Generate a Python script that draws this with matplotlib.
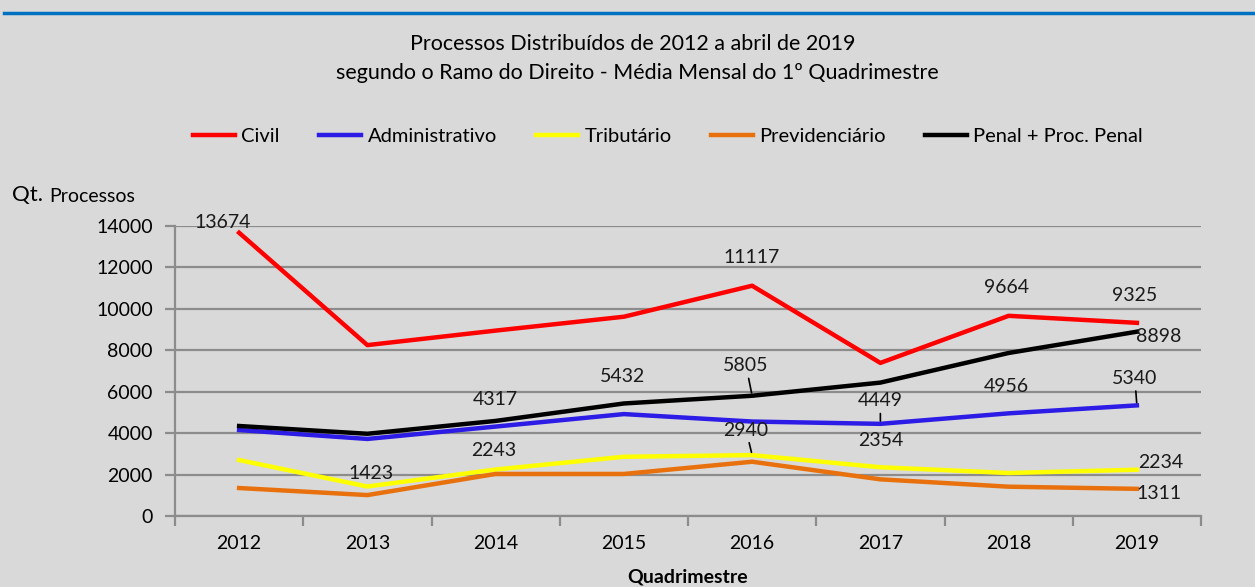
import matplotlib.pyplot as plt
import numpy as np

plt.rcParams['font.family'] = ['Lato', 'DejaVu Sans']

anos = ['2012', '2013', '2014', '2015', '2016', '2017', '2018', '2019']
civil = [13674, 8250, 8950, 9620, 11117, 7390, 9664, 9325]
administrativo = [4150, 3720, 4317, 4920, 4560, 4449, 4956, 5340]
tributario = [2700, 1423, 2243, 2860, 2940, 2354, 2075, 2234]
previdenciario = [1350, 1010, 2030, 2030, 2620, 1770, 1415, 1311]
penal = [4345, 3970, 4590, 5432, 5805, 6440, 7870, 8898]

bg = '#D9D9D9'
grid_c = '#8C8C8C'

fig = plt.figure(figsize=(12.55, 5.87), dpi=100, facecolor=bg)
ax = fig.add_axes([175/1255, 1-516/587, (1201-175)/1255, (516-226)/587])
ax.set_facecolor(bg)

x = np.arange(len(anos))
lw = 3.2
ax.plot(x, civil, color='#FF0000', lw=lw, label='Civil')
ax.plot(x, administrativo, color='#2D1BE6', lw=lw, label='Administrativo')
ax.plot(x, tributario, color='#FFFF00', lw=lw, label='Tributário')
ax.plot(x, previdenciario, color='#E8710E', lw=lw, label='Previdenciário')
ax.plot(x, penal, color='#000000', lw=lw, label='Penal + Proc. Penal')

ax.set_xlim(-0.5, 7.5)
ax.set_ylim(0, 14000)
ax.set_yticks(range(0, 14001, 2000))
ax.yaxis.grid(True, color=grid_c, lw=1.6)
ax.set_axisbelow(True)
ax.set_xticks(x)
ax.set_xticklabels(anos, fontsize=14)
ax.set_xticks(np.arange(-0.5, 8, 1), minor=True)
ax.tick_params(axis='x', which='major', length=0, pad=14)
ax.tick_params(axis='x', which='minor', length=7, width=1.6, color=grid_c)
ax.tick_params(axis='y', length=7, width=1.6, color=grid_c, labelsize=14, pad=9)
for s in ['top', 'right']:
    ax.spines[s].set_visible(False)
for s in ['left', 'bottom']:
    ax.spines[s].set_color(grid_c)
    ax.spines[s].set_linewidth(1.6)

# rotulos de dados: (serie, indice, dx, dy em pixels, linha guia)
def rot(serie, i, dx, dy, guia=False):
    px = 0.72
    kw = {}
    if guia:
        kw['arrowprops'] = dict(arrowstyle='-', color='black', lw=1.2, shrinkA=1, shrinkB=2)
    ax.annotate(str(serie[i]), (x[i], serie[i]), xytext=(dx*px, dy*px),
                textcoords='offset points', ha='center', va='center',
                fontsize=14, color='#1A1A1A', annotation_clip=False, **kw)

rot(civil, 0, -16, 10)
rot(tributario, 1, 4, 13)
rot(tributario, 2, -2, 19)
rot(administrativo, 2, 0, 27)
rot(penal, 3, -1, 27)
rot(civil, 4, -1, 28)
rot(penal, 4, -6, 30, True)
rot(tributario, 4, -6, 25, True)
rot(administrativo, 5, 0, 23, True)
rot(tributario, 5, 0, 27)
rot(civil, 6, -2, 28)
rot(administrativo, 6, -2, 27)
rot(civil, 7, -2, 27)
rot(penal, 7, 22, -5)
rot(administrativo, 7, -2, 27, True)
rot(tributario, 7, 24, 7)
rot(previdenciario, 7, 22, -5)

fig.text(688/1255, 1-577/587, 'Quadrimestre', ha='center', va='center', fontsize=14, fontweight='bold')

fig.text(633/1255, 1-44/587, 'Processos Distribuídos de 2012 a abril de 2019', ha='center', va='center', fontsize=15.5)
fig.text(637/1255, 1-73/587, 'segundo o Ramo do Direito - Média Mensal do 1º Quadrimestre', ha='center', va='center', fontsize=15.5)

fig.legend(loc='center', bbox_to_anchor=(668/1255, 1-136/587), ncol=5, frameon=False,
           fontsize=14.5, handlelength=2.1, columnspacing=1.95, handletextpad=0.3)

fig.text(12/1255, 1-195/587, 'Qt.', ha='left', va='center', fontsize=16)
fig.text(49/1255, 1-196/587, 'Processos', ha='left', va='center', fontsize=14)

fig.add_artist(plt.Line2D([4/1255, 1], [1-13/587, 1-13/587], color='#0070C0', lw=2.5))

fig.savefig('out.png', dpi=100, facecolor=bg)
